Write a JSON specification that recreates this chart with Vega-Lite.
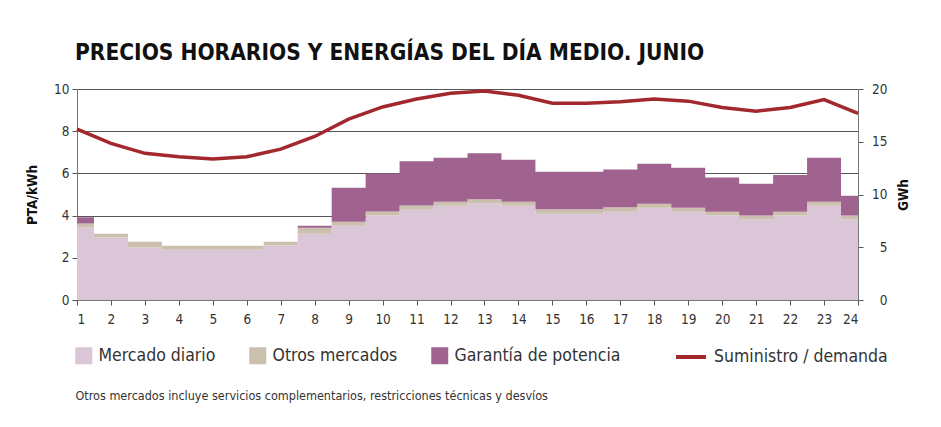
{
  "$schema": "https://vega.github.io/schema/vega-lite/v6.json",
  "width": 781,
  "height": 211,
  "autosize": {"type": "none"},
  "padding": {"left": 77, "top": 89, "right": 83, "bottom": 127},
  "background": "white",
  "config": {
    "font": "DejaVu Sans Condensed, sans-serif",
    "view": {"stroke": null},
    "axis": {"labelFont": "DejaVu Sans Condensed", "labelFontSize": 13.5, "labelColor": "#333", "titleFont": "DejaVu Sans Condensed", "titleFontSize": 13.5, "titleColor": "#111", "domainColor": "#777", "tickColor": "#555", "tickSize": 5, "gridColor": "#555", "gridWidth": 1.2},
    "axisX": {"labelOverlap": false},
    "legend": {"labelFont": "DejaVu Sans Condensed", "labelFontSize": 17.5, "labelColor": "#333", "labelLimit": 400}
  },
  "title": {
    "text": "PRECIOS HORARIOS Y ENERGÍAS DEL DÍA MEDIO. JUNIO",
    "anchor": "start",
    "frame": "group",
    "baseline": "alphabetic",
    "offset": 31,
    "dy": 31,
    "dx": -2,
    "fontSize": 22.5,
    "fontWeight": "bold",
    "color": "#111",
    "font": "DejaVu Sans Condensed"
  },
  "datasets": {
    "series": [
      {"serie": "Mercado diario", "orden": 1},
      {"serie": "Otros mercados", "orden": 2},
      {"serie": "Garantía de potencia", "orden": 3}
    ],
    "precios": [
      {"hora": 1, "serie": "Mercado diario", "valor": 3.45}, {"hora": 1, "serie": "Otros mercados", "valor": 0.17}, {"hora": 1, "serie": "Garantía de potencia", "valor": 0.30},
      {"hora": 2, "serie": "Mercado diario", "valor": 2.97}, {"hora": 2, "serie": "Otros mercados", "valor": 0.17}, {"hora": 2, "serie": "Garantía de potencia", "valor": 0},
      {"hora": 3, "serie": "Mercado diario", "valor": 2.49}, {"hora": 3, "serie": "Otros mercados", "valor": 0.27}, {"hora": 3, "serie": "Garantía de potencia", "valor": 0},
      {"hora": 4, "serie": "Mercado diario", "valor": 2.38}, {"hora": 4, "serie": "Otros mercados", "valor": 0.19}, {"hora": 4, "serie": "Garantía de potencia", "valor": 0},
      {"hora": 5, "serie": "Mercado diario", "valor": 2.38}, {"hora": 5, "serie": "Otros mercados", "valor": 0.19}, {"hora": 5, "serie": "Garantía de potencia", "valor": 0},
      {"hora": 6, "serie": "Mercado diario", "valor": 2.38}, {"hora": 6, "serie": "Otros mercados", "valor": 0.19}, {"hora": 6, "serie": "Garantía de potencia", "valor": 0},
      {"hora": 7, "serie": "Mercado diario", "valor": 2.59}, {"hora": 7, "serie": "Otros mercados", "valor": 0.17}, {"hora": 7, "serie": "Garantía de potencia", "valor": 0},
      {"hora": 8, "serie": "Mercado diario", "valor": 3.14}, {"hora": 8, "serie": "Otros mercados", "valor": 0.29}, {"hora": 8, "serie": "Garantía de potencia", "valor": 0.09},
      {"hora": 9, "serie": "Mercado diario", "valor": 3.52}, {"hora": 9, "serie": "Otros mercados", "valor": 0.19}, {"hora": 9, "serie": "Garantía de potencia", "valor": 1.61},
      {"hora": 10, "serie": "Mercado diario", "valor": 4.00}, {"hora": 10, "serie": "Otros mercados", "valor": 0.20}, {"hora": 10, "serie": "Garantía de potencia", "valor": 1.79},
      {"hora": 11, "serie": "Mercado diario", "valor": 4.28}, {"hora": 11, "serie": "Otros mercados", "valor": 0.20}, {"hora": 11, "serie": "Garantía de potencia", "valor": 2.09},
      {"hora": 12, "serie": "Mercado diario", "valor": 4.47}, {"hora": 12, "serie": "Otros mercados", "valor": 0.19}, {"hora": 12, "serie": "Garantía de potencia", "valor": 2.08},
      {"hora": 13, "serie": "Mercado diario", "valor": 4.58}, {"hora": 13, "serie": "Otros mercados", "valor": 0.19}, {"hora": 13, "serie": "Garantía de potencia", "valor": 2.18},
      {"hora": 14, "serie": "Mercado diario", "valor": 4.47}, {"hora": 14, "serie": "Otros mercados", "valor": 0.19}, {"hora": 14, "serie": "Garantía de potencia", "valor": 1.99},
      {"hora": 15, "serie": "Mercado diario", "valor": 4.09}, {"hora": 15, "serie": "Otros mercados", "valor": 0.21}, {"hora": 15, "serie": "Garantía de potencia", "valor": 1.78},
      {"hora": 16, "serie": "Mercado diario", "valor": 4.09}, {"hora": 16, "serie": "Otros mercados", "valor": 0.21}, {"hora": 16, "serie": "Garantía de potencia", "valor": 1.78},
      {"hora": 17, "serie": "Mercado diario", "valor": 4.18}, {"hora": 17, "serie": "Otros mercados", "valor": 0.21}, {"hora": 17, "serie": "Garantía de potencia", "valor": 1.79},
      {"hora": 18, "serie": "Mercado diario", "valor": 4.37}, {"hora": 18, "serie": "Otros mercados", "valor": 0.19}, {"hora": 18, "serie": "Garantía de potencia", "valor": 1.90},
      {"hora": 19, "serie": "Mercado diario", "valor": 4.18}, {"hora": 19, "serie": "Otros mercados", "valor": 0.19}, {"hora": 19, "serie": "Garantía de potencia", "valor": 1.90},
      {"hora": 20, "serie": "Mercado diario", "valor": 4.00}, {"hora": 20, "serie": "Otros mercados", "valor": 0.18}, {"hora": 20, "serie": "Garantía de potencia", "valor": 1.62},
      {"hora": 21, "serie": "Mercado diario", "valor": 3.81}, {"hora": 21, "serie": "Otros mercados", "valor": 0.19}, {"hora": 21, "serie": "Garantía de potencia", "valor": 1.51},
      {"hora": 22, "serie": "Mercado diario", "valor": 4.00}, {"hora": 22, "serie": "Otros mercados", "valor": 0.18}, {"hora": 22, "serie": "Garantía de potencia", "valor": 1.74},
      {"hora": 23, "serie": "Mercado diario", "valor": 4.47}, {"hora": 23, "serie": "Otros mercados", "valor": 0.19}, {"hora": 23, "serie": "Garantía de potencia", "valor": 2.08},
      {"hora": 24, "serie": "Mercado diario", "valor": 3.81}, {"hora": 24, "serie": "Otros mercados", "valor": 0.19}, {"hora": 24, "serie": "Garantía de potencia", "valor": 0.94}
    ],
    "demanda": [
      {"hora": 1, "gwh": 16.2}, {"hora": 2, "gwh": 14.85}, {"hora": 3, "gwh": 13.9}, {"hora": 4, "gwh": 13.58},
      {"hora": 5, "gwh": 13.36}, {"hora": 6, "gwh": 13.58}, {"hora": 7, "gwh": 14.3}, {"hora": 8, "gwh": 15.5},
      {"hora": 9, "gwh": 17.15}, {"hora": 10, "gwh": 18.3}, {"hora": 11, "gwh": 19.05}, {"hora": 12, "gwh": 19.6},
      {"hora": 13, "gwh": 19.8}, {"hora": 14, "gwh": 19.4}, {"hora": 15, "gwh": 18.65}, {"hora": 16, "gwh": 18.65},
      {"hora": 17, "gwh": 18.8}, {"hora": 18, "gwh": 19.05}, {"hora": 19, "gwh": 18.85}, {"hora": 20, "gwh": 18.25},
      {"hora": 21, "gwh": 17.9}, {"hora": 22, "gwh": 18.25}, {"hora": 23, "gwh": 19.0}, {"hora": 24, "gwh": 17.7}
    ]
  },
  "layer": [
    {
      "data": {"name": "precios"},
      "transform": [
        {"lookup": "serie", "from": {"data": {"name": "series"}, "key": "serie", "fields": ["orden"]}}
      ],
      "mark": {"type": "area", "interpolate": "step"},
      "encoding": {
        "x": {"field": "hora", "type": "quantitative", "scale": {"domain": [1, 24], "nice": false},
          "axis": {"values": [1,2,3,4,5,6,7,8,9,10,11,12,13,14,15,16,17,18,19,20,21,22,23,24], "grid": false, "labelPadding": 7, "labelOverlap": false,
            "title": "Otros mercados incluye servicios complementarios, restricciones técnicas y desvíos",
            "titleAnchor": "start", "titleAlign": "left", "titleX": -2, "titleY": 89, "titleFontSize": 12.5, "titleFontWeight": "normal", "titleColor": "#333"}},
        "y": {"field": "valor", "type": "quantitative", "stack": "zero", "scale": {"domain": [0, 10], "nice": false},
          "axis": {"title": "PTA/kWh", "values": [0,2,4,6,8,10], "titlePadding": 14, "labelPadding": 3}},
        "color": {"field": "serie", "type": "nominal",
          "sort": ["Mercado diario", "Otros mercados", "Garantía de potencia"],
          "scale": {"domain": ["Mercado diario", "Otros mercados", "Garantía de potencia"], "range": ["#dbc6d8", "#cbbfad", "#a0638f"]},
          "legend": {"title": null, "orient": "none", "legendX": -2, "legendY": 258, "direction": "horizontal", "columns": 3, "gridAlign": "none", "columnPadding": 33, "symbolType": "square", "symbolSize": 289, "symbolStrokeWidth": 0, "symbolOpacity": 1, "labelOffset": 6}},
        "order": {"field": "orden", "type": "quantitative", "sort": "ascending"}
      }
    },
    {
      "data": {"name": "demanda"},
      "mark": {"type": "line", "strokeWidth": 3.5},
      "encoding": {
        "x": {"field": "hora", "type": "quantitative", "axis": {"values": [1,2,3,4,5,6,7,8,9,10,11,12,13,14,15,16,17,18,19,20,21,22,23,24], "labelOverlap": false}},
        "y": {"field": "gwh", "type": "quantitative", "scale": {"domain": [0, 20], "nice": false},
          "axis": {"title": "GWh", "orient": "right", "values": [0,5,10,15,20], "grid": false, "titlePadding": 23, "labelPadding": 24, "labelAlign": "right", "titleAngle": 270}},
        "stroke": {"datum": "Suministro / demanda", "type": "nominal", "scale": {"range": ["#a3282d"]},
          "legend": {"title": null, "orient": "none", "legendX": 597, "legendY": 251, "symbolType": "stroke", "symbolSize": 900, "symbolStrokeWidth": 4, "labelOffset": 6}}
      }
    }
  ],
  "resolve": {"scale": {"y": "independent"}}
}
